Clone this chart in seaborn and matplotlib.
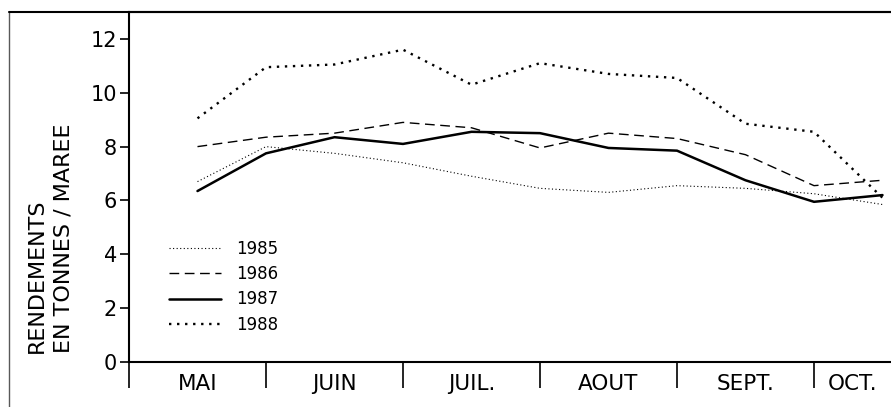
import matplotlib
matplotlib.use("Agg")
import matplotlib.pyplot as plt
from matplotlib.lines import Line2D
import seaborn as sns
import pandas as pd

# ---- data (half-month steps, x in months from start of May) ----
periods = [0.5, 1.0, 1.5, 2.0, 2.5, 3.0, 3.5, 4.0, 4.5, 5.0, 5.5]
y1985 = [6.7, 8.0, 7.75, 7.4, 6.9, 6.45, 6.3, 6.55, 6.45, 6.25, 5.85]
y1986 = [8.0, 8.35, 8.5, 8.9, 8.7, 7.95, 8.5, 8.3, 7.7, 6.55, 6.75]
y1987 = [6.35, 7.75, 8.35, 8.1, 8.55, 8.5, 7.95, 7.85, 6.75, 5.95, 6.2]
y1988 = [9.05, 10.95, 11.05, 11.6, 10.3, 11.1, 10.7, 10.55, 8.85, 8.55, 6.1]
years = ["1985", "1986", "1987", "1988"]
months = ["MAI", "JUIN", "JUIL.", "AOUT", "SEPT.", "OCT."]
yticks = [0, 2, 4, 6, 8, 10, 12]

sns.set_style("white")
plt.rcParams["font.family"] = ["DejaVu Sans"]
plt.rcParams.update({"text.color": "black", "axes.labelcolor": "black",
                     "xtick.color": "black", "ytick.color": "black"})

W, H = 891, 407
fig = plt.figure(figsize=(W / 100, H / 100), dpi=100)
ax = fig.add_axes([129 / W, 45 / H, 762 / W, 350 / H])

styles = {
    "1985": dict(lw=0.8, linestyle=(0, (1, 2.2))),
    "1986": dict(lw=1.0, linestyle=(0, (7, 4))),
    "1987": dict(lw=1.8, linestyle="-"),
    "1988": dict(lw=1.7, linestyle=(0, (1, 2.4))),
}
series = {"1985": y1985, "1986": y1986, "1987": y1987, "1988": y1988}

for yr in years:
    df = pd.DataFrame({"x": periods, "y": series[yr]})
    sns.lineplot(data=df, x="x", y="y", ax=ax, color="black", label=yr,
                 **styles[yr])

xmax = 762 / 137
ax.set_xlim(0, xmax)
ax.set_ylim(0, 13)

# spines
for s in ["left", "bottom", "top"]:
    ax.spines[s].set_visible(True)
    ax.spines[s].set_color("black")
    ax.spines[s].set_linewidth(1.5)
ax.spines["right"].set_visible(False)

# y ticks
ax.set_yticks(yticks)
ax.set_yticklabels([str(v) for v in yticks])
ax.tick_params(axis="y", which="major", direction="out", length=6.5, width=1.2,
               pad=2, labelsize=15, left=True, color="black",
               labelcolor="black")

# x ticks: month separators (major) and month labels (minor)
ax.set_xticks(range(0, 6))
ax.set_xticklabels([])
ax.tick_params(axis="x", which="major", direction="out", length=18.7,
               width=1.2, bottom=True, color="black")
label_pos = [i + 0.5 for i in range(5)] + [(5 + xmax) / 2]
ax.set_xticks(label_pos, minor=True)
ax.set_xticklabels(months, minor=True)
ax.tick_params(axis="x", which="minor", length=0, pad=9, labelsize=15.5,
               labelcolor="black")

ax.set_xlabel("")
ax.set_ylabel("")

leg = ax.legend(frameon=False, loc="upper left",
                bbox_to_anchor=(0.053, 0.35), borderaxespad=0, borderpad=0,
                fontsize=12, handlelength=3.1, handletextpad=0.9,
                labelspacing=0.45, labelcolor="black")

# y label
fig.text(50 / W, 54 / H, "RENDEMENTS\nEN TONNES / MAREE", rotation=90,
         ha="center", va="bottom", multialignment="left", fontsize=16,
         linespacing=1.4, color="black")

# outer frame lines
fig.add_artist(Line2D([9 / W, 9 / W], [0, 395 / H], transform=fig.transFigure,
                      lw=1.0, color="0.35"))
fig.add_artist(Line2D([9 / W, 1], [395 / H, 395 / H], transform=fig.transFigure,
                      lw=1.5, color="black"))

fig.savefig("out.png", dpi=100)
